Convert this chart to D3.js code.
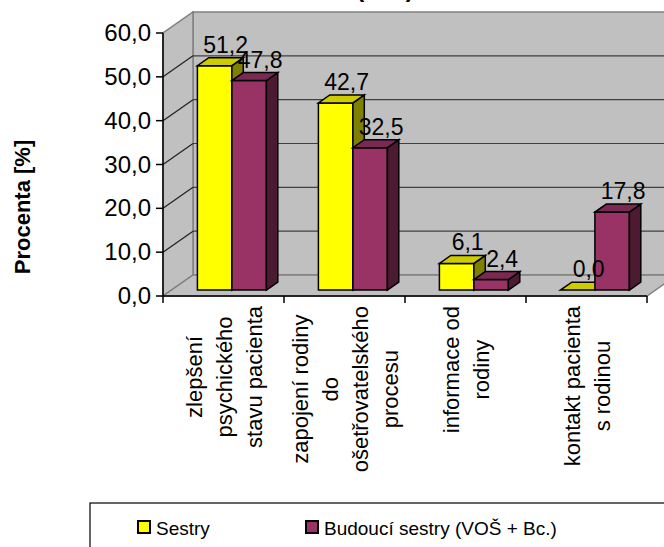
<!DOCTYPE html>
<html>
<head>
<meta charset="utf-8">
<script src="https://cdn.jsdelivr.net/npm/d3@7"></script>
<style>
  body { margin: 0; background: #fff; }
  svg { display: block; font-family: "Liberation Sans", Arial, sans-serif; }
</style>
</head>
<body>
<div id="chart"></div>
<script>
// DATA
const categories = [
    ["zlepšení", "psychického", "stavu pacienta"],
    ["zapojení rodiny", "do", "ošetřovatelského", "procesu"],
    ["informace od", "rodiny"],
    ["kontakt pacienta", "s rodinou"]
];
const sestry = [51.2, 42.7, 6.1, 0.0];
const budouci = [47.8, 32.5, 2.4, 17.8];
const seriesNames = ["Sestry", "Budoucí sestry (VOŠ + Bc.)"];
const yTicks = [0, 10, 20, 30, 40, 50, 60];

// SET SIZE & 3D OFFSETS
const width = 664;
const height = 547;
const plotLeft = 163, plotRight = 647;
const depthX = 30, depthY = -21;
const barShift = 0.28, barDepth = 0.38;

const colors = [
    { front: "#ffff00", top: "#cccc00", side: "#808000" },
    { front: "#993366", top: "#7a2952", side: "#4d1a33" }
];

const svg = d3.select("#chart").append("svg")
    .attr("width", width)
    .attr("height", height);

// SCALES
const y = d3.scaleLinear().domain([0, 60]).range([296, 33]);
const x = d3.scaleBand().domain(d3.range(categories.length)).range([plotLeft, plotRight]);
const xs = d3.scaleBand().domain([0, 1]).range([0, 69]);

// PARTLY CLIPPED TITLE
svg.append("text")
    .attr("x", 385).attr("y", -3)
    .attr("text-anchor", "middle")
    .style("font-size", "24px").style("font-weight", "bold")
    .text("(v %)");

// WALLS & FLOOR
const wallFill = "#c0c0c0", wallLine = "#808080";
const pts = p => p.map(d => d.join(",")).join(" ");

svg.append("polygon") // back wall
    .attr("points", pts([[plotLeft + depthX, y(0) + depthY], [plotRight + depthX, y(0) + depthY],
        [plotRight + depthX, y(60) + depthY], [plotLeft + depthX, y(60) + depthY]]))
    .attr("fill", wallFill).attr("stroke", wallLine).attr("stroke-width", 1.5);

svg.append("polygon") // side wall
    .attr("points", pts([[plotLeft, y(0)], [plotLeft + depthX, y(0) + depthY],
        [plotLeft + depthX, y(60) + depthY], [plotLeft, y(60)]]))
    .attr("fill", wallFill).attr("stroke", wallLine).attr("stroke-width", 1.5);

svg.append("polygon") // floor
    .attr("points", pts([[plotLeft, y(0)], [plotRight, y(0)],
        [plotRight + depthX, y(0) + depthY], [plotLeft + depthX, y(0) + depthY]]))
    .attr("fill", wallFill).attr("stroke", wallLine).attr("stroke-width", 1.5);

// GRIDLINES
const grid = yTicks.filter(t => t > 0 && t < 60);
svg.selectAll(".gridBack").data(grid).enter().append("line")
    .attr("x1", plotLeft + depthX).attr("x2", plotRight + depthX)
    .attr("y1", d => y(d) + depthY).attr("y2", d => y(d) + depthY)
    .attr("stroke", "#404040").attr("stroke-width", 1.2);
svg.selectAll(".gridSide").data(grid).enter().append("line")
    .attr("x1", plotLeft).attr("x2", plotLeft + depthX)
    .attr("y1", d => y(d)).attr("y2", d => y(d) + depthY)
    .attr("stroke", "#202020").attr("stroke-width", 1.2);

// BARS
function bar(g, cx, w, v, c) {
    const x0 = cx + depthX * barShift, x1 = x0 + w;
    const yb = y(0) + depthY * barShift, yt = y(v) + depthY * barShift;
    const dx = depthX * barDepth, dy = depthY * barDepth;
    if (v > 0) {
        g.append("polygon").attr("points", pts([[x0, yb], [x1, yb], [x1, yt], [x0, yt]]))
            .attr("fill", c.front).attr("stroke", "#000").attr("stroke-width", 1.5);
        g.append("polygon").attr("points", pts([[x1, yb], [x1 + dx, yb + dy], [x1 + dx, yt + dy], [x1, yt]]))
            .attr("fill", c.side).attr("stroke", "#000").attr("stroke-width", 1.5);
    }
    g.append("polygon").attr("points", pts([[x0, yt], [x1, yt], [x1 + dx, yt + dy], [x0 + dx, yt + dy]]))
        .attr("fill", c.top).attr("stroke", "#000").attr("stroke-width", 1.5);
}

const series = [sestry, budouci];
const gBars = svg.append("g");
categories.forEach((cat, i) => {
    const groupLeft = x(i) + (x.bandwidth() - 69) / 2;
    series.forEach((s, j) => {
        bar(gBars, groupLeft + xs(j), xs.bandwidth(), s[i], colors[j]);
    });
});

// VALUE LABELS
const fmt = v => d3.format(".1f")(v).replace(".", ",");
categories.forEach((cat, i) => {
    const groupLeft = x(i) + (x.bandwidth() - 69) / 2;
    series.forEach((s, j) => {
        svg.append("text")
            .attr("x", groupLeft + xs(j) + xs.bandwidth() / 2 + depthX * barShift + 11)
            .attr("y", y(s[i]) + depthY * (barShift + barDepth) - 5)
            .attr("text-anchor", "middle")
            .style("font-size", "23px")
            .text(fmt(s[i]));
    });
});

// AXES
svg.append("line")
    .attr("x1", plotLeft).attr("x2", plotLeft)
    .attr("y1", y(60)).attr("y2", y(0))
    .attr("stroke", "#000").attr("stroke-width", 1.5);
svg.append("line")
    .attr("x1", plotLeft).attr("x2", plotRight)
    .attr("y1", y(0)).attr("y2", y(0))
    .attr("stroke", "#000").attr("stroke-width", 1.5);

svg.selectAll(".yTick").data(yTicks).enter().append("line")
    .attr("x1", plotLeft - 7).attr("x2", plotLeft)
    .attr("y1", d => y(d)).attr("y2", d => y(d))
    .attr("stroke", "#000").attr("stroke-width", 1.5);
svg.selectAll(".yLabel").data(yTicks).enter().append("text")
    .attr("x", 151).attr("y", d => y(d) + 8)
    .attr("text-anchor", "end")
    .style("font-size", "24px")
    .text(d => fmt(d));

svg.selectAll(".xTick").data(d3.range(categories.length + 1)).enter().append("line")
    .attr("x1", d => plotLeft + d * x.step()).attr("x2", d => plotLeft + d * x.step())
    .attr("y1", y(0)).attr("y2", y(0) + 7)
    .attr("stroke", "#000").attr("stroke-width", 1.5);

// CATEGORY LABELS (ROTATED, MULTI-LINE)
const lineH = 30;
categories.forEach((lines, i) => {
    const cx = x(i) + x.bandwidth() / 2;
    const t = svg.append("text")
        .attr("text-anchor", "middle")
        .style("font-size", "22px");
    lines.forEach((l, k) => {
        t.append("tspan")
            .attr("x", 0)
            .attr("y", (k - (lines.length - 1) / 2) * lineH + 8)
            .text(l);
    });
    let maxLen = 0;
    t.selectAll("tspan").each(function () { maxLen = Math.max(maxLen, this.getComputedTextLength()); });
    t.attr("transform", "translate(" + cx + "," + (306 + maxLen / 2) + ") rotate(-90)");
});

// Y AXIS TITLE
svg.append("text")
    .attr("transform", "translate(30,207) rotate(-90)")
    .attr("text-anchor", "middle")
    .style("font-size", "22px").style("font-weight", "bold")
    .text("Procenta [%]");

// LEGEND
svg.append("rect")
    .attr("x", 90).attr("y", 503)
    .attr("width", 600).attr("height", 60)
    .attr("fill", "#fff").attr("stroke", "#000").attr("stroke-width", 1.2);
const legendX = [138, 306];
seriesNames.forEach((name, j) => {
    svg.append("rect")
        .attr("x", legendX[j]).attr("y", 521)
        .attr("width", 12).attr("height", 12)
        .attr("fill", colors[j].front).attr("stroke", "#000").attr("stroke-width", 2);
    svg.append("text")
        .attr("x", legendX[j] + 18).attr("y", 535)
        .style("font-size", "19px")
        .text(name);
});
</script>
</body>
</html>
